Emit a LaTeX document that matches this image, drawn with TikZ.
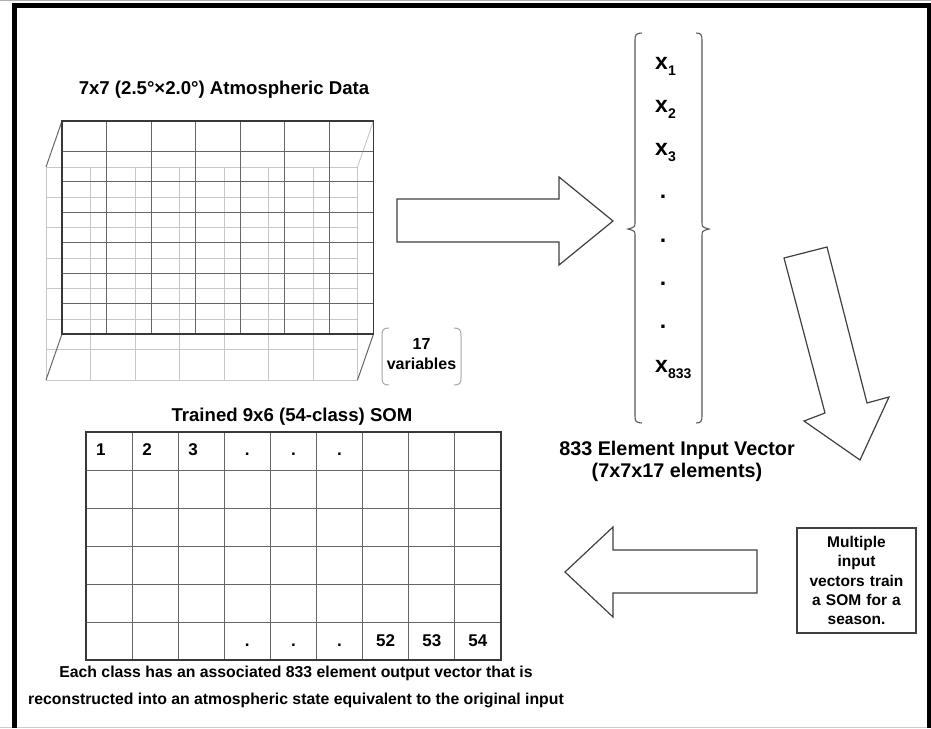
\documentclass[tikz,border=0pt]{standalone}
\usepackage{fontspec}
\setmainfont{Liberation Sans}
\usepackage{tikz}
\usetikzlibrary{calc}

\newcommand{\vsub}[1]{\raisebox{-6pt}{\fontsize{14}{14}\selectfont #1}}

\begin{document}
\begin{tikzpicture}[x=1pt,y=-1pt]
	\tikzstyle{backgrid}=[black!22,line width=0.9pt]
	\tikzstyle{frontgrid}=[black!60,line width=1pt]
	\tikzstyle{frontedge}=[black!78,line width=1.5pt]
	\tikzstyle{blockarrow}=[draw=black!75,line width=1.2pt,fill=white,line join=miter]
	\tikzstyle{bracket}=[black!65,line width=1.1pt]
	\tikzstyle{title}=[font=\fontsize{18.6}{20}\selectfont\bfseries]
	\tikzstyle{vecx}=[font=\fontsize{23}{23}\selectfont\bfseries,inner sep=0pt]
	\tikzstyle{somnum}=[font=\fontsize{17}{17}\selectfont\bfseries,inner sep=0pt]
	\tikzstyle{captext}=[font=\fontsize{15.8}{27}\selectfont\bfseries,align=center]

	\useasboundingbox (0,0) rectangle (931,728);
	\fill [white] (0,0) rectangle (931,728);
	\draw [black!30,line width=1pt] (0,0.5) -- (931,0.5);
	\draw [black!20,line width=1pt] (0,727.5) -- (931,727.5);
	\draw [line width=4.5pt] (14.5,728) -- (14.5,5.5) -- (929.5,5.5) -- (929.5,728);

	% data cube
	\foreach \i in {0,...,7} {
		\draw [backgrid] (46+\i*44.5,167) -- (46+\i*44.5,380);
		\draw [backgrid] (46,167+\i*30.43) -- (357.5,167+\i*30.43);
	}
	\draw [frontgrid] (62,121) -- (46,167);
	\draw [frontgrid] (62,334) -- (46,380);
	\draw [frontgrid] (373.5,334) -- (357.5,380);
	\draw [backgrid] (373.5,121) -- (357.5,167);
	\foreach \i in {1,...,6} {
		\draw [frontgrid] (62+\i*44.5,121) -- (62+\i*44.5,334);
		\draw [frontgrid] (62,121+\i*30.43) -- (373.5,121+\i*30.43);
	}
	\draw [frontedge] (62,121) rectangle (373.5,334);
	\node (datatitle) [title] at (224,90) {7x7 (2.5°×2.0°) Atmospheric Data};

	\draw [black!35,line width=1pt] (389,328) .. controls (383,328) and (382,330) .. (382,336) -- (382,377) .. controls (382,383) and (383,385) .. (389,385);
	\draw [black!35,line width=1pt] (454,328) .. controls (460,328) and (461,330) .. (461,336) -- (461,377) .. controls (461,383) and (460,385) .. (454,385);
	\node (nvars) [font=\fontsize{16}{20}\selectfont\bfseries,align=center,inner sep=0pt] at (421.5,354) {17\\variables};

	\draw [blockarrow] (397,199) -- (559,199) -- (559,177) -- (613,221) -- (559,265) -- (559,242) -- (397,242) -- cycle;

	% input vector
	\draw [bracket] (642,33) .. controls (636,33) and (635,35) .. (635,40) -- (635,222) .. controls (635,227) .. (628,229) .. controls (635,231) .. (635,236) -- (635,416) .. controls (635,421) and (636,423) .. (642,423);
	\draw [bracket] (696,33) .. controls (701,33) and (702,35) .. (702,40) -- (702,222) .. controls (702,227) .. (709,229) .. controls (702,231) .. (702,236) -- (702,416) .. controls (702,421) and (701,423) .. (696,423);
	\foreach \k in {1,2,3} {
		\node (x\k) [vecx,anchor=base west] at (655,69+\k*43.3-43.3) {x\vsub{\k}};
	}
	\foreach \k in {3,...,6} {
		\node (dot\k) [vecx,anchor=base] at (663,69+\k*43.3) {.};
	}
	\node (xlast) [vecx,anchor=base west] at (655,372) {x\vsub{833}};
	\node (vectitle) [font=\fontsize{19.8}{22}\selectfont\bfseries,align=center] at (677,461) {833 Element Input Vector\\(7x7x17 elements)};

	\draw [blockarrow] (784,258) -- (827,247) -- (867,403) -- (889,397) -- (860,460) -- (804,421) -- (825,413) -- cycle;

	\node (trainbox) [draw=black!75,line width=1.2pt,font=\fontsize{15.5}{19.3}\selectfont\bfseries,align=center,text width=105pt,inner xsep=7pt,minimum height=105pt] at (856.5,580.5) {Multiple\\input\\vectors train\\a SOM for a\\season.};

	\draw [blockarrow] (757,550) -- (613,550) -- (613,527) -- (565,572) -- (613,617) -- (613,593) -- (757,593) -- cycle;

	% trained map
	\foreach \i in {1,...,8} \draw [frontgrid] (86+\i*46.11,432) -- (86+\i*46.11,660);
	\foreach \j in {1,...,5} \draw [frontgrid] (86,432+\j*38) -- (501,432+\j*38);
	\draw [frontedge] (86,432) rectangle (501,660);
	\node (somtitle) [title] at (292,417) {Trained 9x6 (54-class) SOM};
	\foreach \n [count=\i from 0] in {1,2,3} {
		\node (top\n) [somnum,anchor=base west] at (96+\i*46.11,455) {\n};
	}
	\foreach \i in {3,4,5} {
		\node (tdot\i) [somnum,anchor=base] at (109+\i*46.11,455) {.};
		\node (bdot\i) [somnum,anchor=base] at (109+\i*46.11,646) {.};
	}
	\foreach \n [count=\i from 6] in {52,53,54} {
		\node (bot\n) [somnum,anchor=base] at (109+\i*46.11,646) {\n};
	}
	\node (caption) [captext] at (296,686.5) {Each class has an associated 833 element output vector that is\\reconstructed into an atmospheric state equivalent to the original input};
\end{tikzpicture}
\end{document}
